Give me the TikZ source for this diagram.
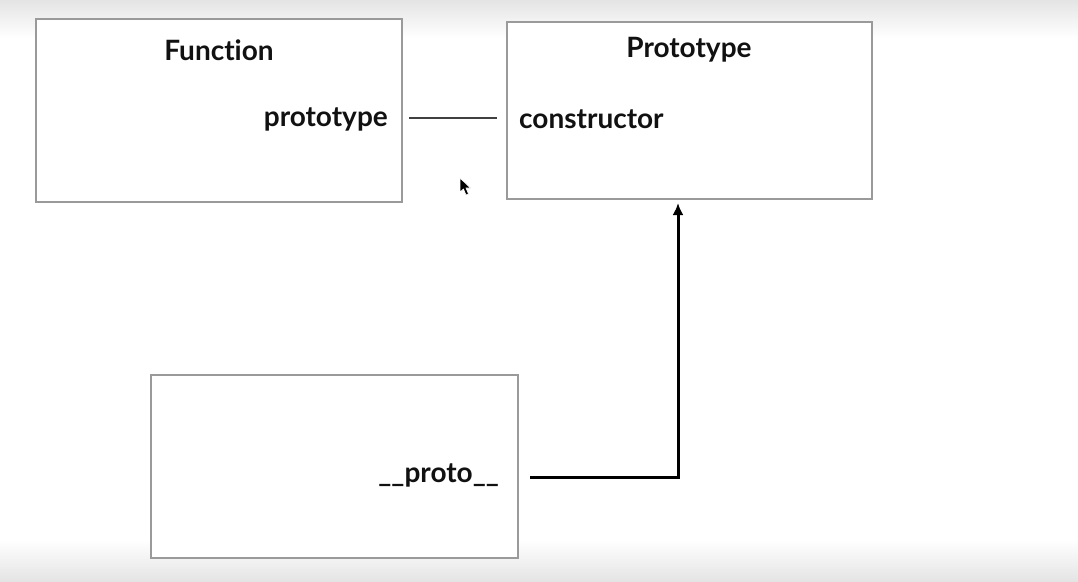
\documentclass[tikz,border=0pt]{standalone}
\usepackage{fontspec}
\setmainfont{Lato}[Ligatures={NoCommon}]
\usetikzlibrary{arrows.meta}
\begin{document}
\begin{tikzpicture}[x=1pt,y=-1pt,
  box/.style={draw=boxgray,line width=1.8pt,fill=white},
  lbl/.style={font=\fontsize{28}{32}\selectfont\bfseries,text=txt,inner sep=0pt}]
\definecolor{boxgray}{HTML}{9A9A9A}
\definecolor{bggray}{HTML}{E4E4E4}
\definecolor{txt}{HTML}{111111}
\useasboundingbox (0,0) rectangle (1078,581);
\fill[white] (0,0) rectangle (1078,581);
\shade[top color=bggray,bottom color=white] (0,0) rectangle (1078,38);
\shade[top color=white,bottom color=bggray] (0,540) rectangle (1078,581);
% boxes
\draw[box] (36,19) rectangle (402,202);
\draw[box] (507,22) rectangle (872,199);
\node[inner sep=0pt,minimum width=365pt,minimum height=177pt] (pbox) at (689.5,110.5) {};
\draw[box] (151,375) rectangle (518,558);
% labels
\node[lbl] (fname) at (219,50) {Function};
\node[lbl,anchor=east] (ptext) at (388,119) {prototype};
\node[lbl] (pname) at (689,50) {Prototype};
\node[lbl,anchor=west] (ctext) at (519,119) {constructor};
\node[lbl,anchor=east] (protot) at (499,475) {\_\_proto\_\_};
% connectors
\draw[draw=black!75,line width=1.8pt,shorten <=21pt,shorten >=22pt] ([yshift=1pt]ptext.east) -- ([yshift=1pt]ctext.west);
\coordinate (up) at (678,199);
\draw[line width=3pt,-{Latex[length=12pt,width=11pt]},shorten <=31pt,shorten >=4pt]
  ([yshift=-2pt]protot.east) -| (up);
% cursor
\filldraw[fill=black,draw=white,line width=0.6pt] (460,178) -- (460,192) -- (463.5,189) -- (466,195) -- (468.5,194) -- (466,188) -- (470.5,188) -- cycle;
\end{tikzpicture}
\end{document}
